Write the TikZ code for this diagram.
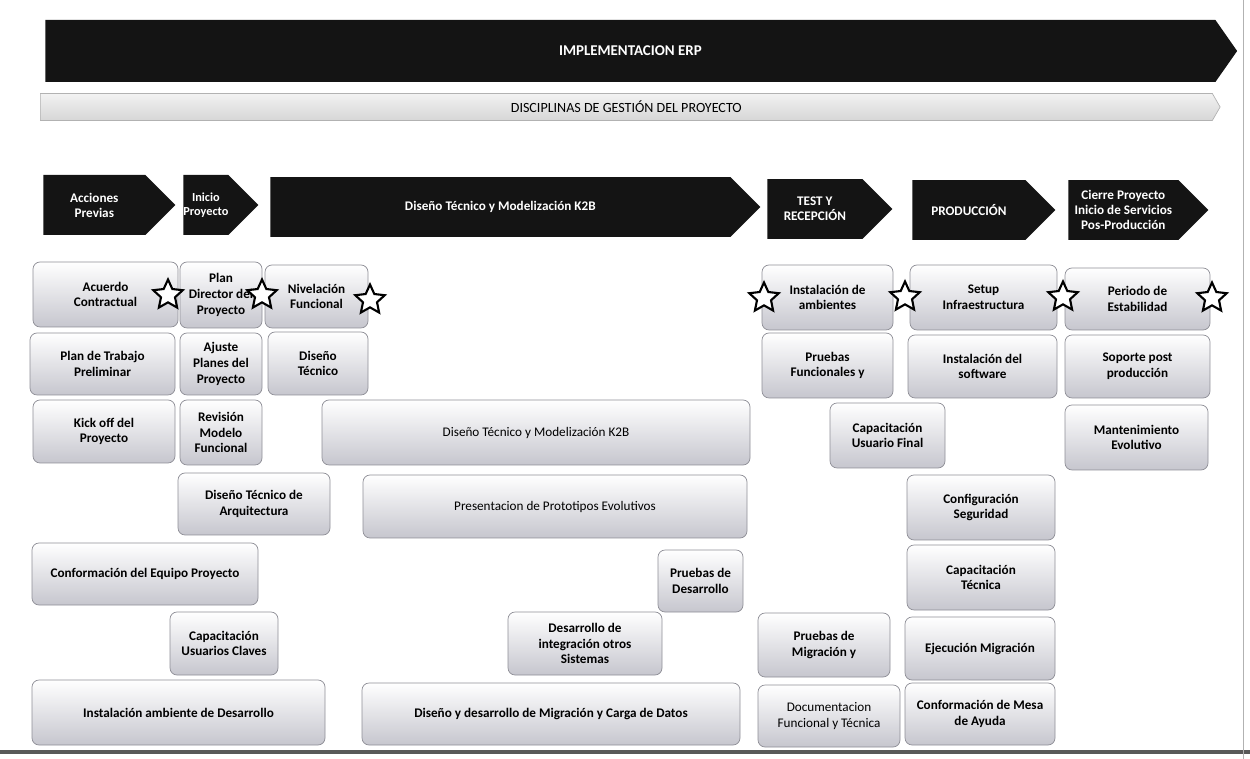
\documentclass[tikz,border=0pt]{standalone}
\usepackage{fontspec}
\setmainfont{Carlito}
\usepackage{xcolor}
\usepackage{tikz}
\usetikzlibrary{positioning,shapes.symbols,shapes.geometric}
\definecolor{negro}{HTML}{141414}
\definecolor{cajab}{HTML}{C6C6CE}
\definecolor{bordec}{HTML}{8E8E96}
\tikzset{
  fase/.style={signal,signal to=east,signal pointer angle=90,fill=negro,text=white,anchor=west,
    font=\bfseries\fontsize{7.5}{8.5}\selectfont,align=center,inner sep=1pt,minimum height=1.2cm},
  caja/.style={rounded corners=4pt,draw=bordec,top color=white,bottom color=cajab,align=center,
    font=\bfseries\fontsize{7.5}{9}\selectfont,inner sep=1pt},
  cajan/.style={caja,font=\fontsize{7.5}{9}\selectfont},
  hito/.style={star,star points=5,star point ratio=2.1,draw=black,very thick,fill=white,
    minimum size=0.62cm,inner sep=0pt}
}
% caja: nombre, x1, y1, x2, y2, texto (en pixeles)
\newcommand{\caja}[7][caja]{\node[#1,minimum width={(#5-#3)*0.02cm},minimum height={(#6-#4)*0.02cm}]
  (#2) at ({(#3+#5)/2},{(#4+#6)/2}) {#7};}

\begin{document}
\begin{tikzpicture}[x=0.02cm,y=-0.02cm]
\useasboundingbox (0,0) rectangle (1250,759);
% bandas superiores
\node[fase,signal pointer angle=110,minimum width=23.84cm,minimum height=1.24cm,font=\bfseries\fontsize{8.5}{10}\selectfont]
  (erp) at (45,51) {IMPLEMENTACION ERP};
\node[signal,signal to=east,signal pointer angle=120,anchor=west,minimum width=23.6cm,minimum height=0.54cm,
  draw=gray!60,top color=gray!10,bottom color=gray!32,font=\fontsize{8}{9}\selectfont,inner sep=1pt]
  (disc) at (40,107) {DISCIPLINAS DE GESTIÓN DEL PROYECTO};
% fases
\node[fase,minimum width=2.64cm] (previas) at (43,205) {Acciones\\Previas};
\node[fase,minimum width=1.5cm,inner sep=0pt,font=\bfseries\fontsize{7}{8}\selectfont] (inicio) at (183,205) {Inicio\\Proyecto};
\node[fase,minimum width=9.8cm] (diseno) at (270,207) {Diseño Técnico y Modelización K2B};
\node[fase,minimum width=2.5cm] (test) at (767,209) {TEST Y\\RECEPCIÓN};
\node[fase,minimum width=2.86cm] (prod) at (912,210) {PRODUCCIÓN};
\node[fase,minimum width=2.8cm] (cierre) at (1068,210) {Cierre Proyecto\\Inicio de Servicios\\Pos-Producción};
% acciones previas / inicio
\caja{acuerdo}{33}{262}{178}{327}{Acuerdo\\Contractual}
\caja{plantrab}{30}{333}{175}{395}{Plan de Trabajo\\Preliminar}
\caja{kickoff}{33}{400}{175}{463}{Kick off del\\Proyecto}
\caja{equipo}{32}{543}{258}{605}{Conformación del Equipo Proyecto}
\caja{capclav}{170}{612}{278}{675}{Capacitación\\Usuarios Claves}
\caja{ambdes}{32}{680}{325}{745}{Instalación ambiente de Desarrollo}
\caja{plandir}{180}{262}{262}{328}{Plan\\Director del\\Proyecto}
\caja{ajuste}{180}{333}{262}{395}{Ajuste\\Planes del\\Proyecto}
\caja{revision}{180}{400}{262}{465}{Revisión\\Modelo\\Funcional}
\caja{arquit}{178}{473}{330}{535}{Diseño Técnico de\\Arquitectura}
% diseno tecnico
\caja{nivel}{265}{265}{368}{328}{Nivelación\\Funcional}
\caja{distec}{268}{332}{368}{395}{Diseño\\Técnico}
\caja[cajan]{modeliz}{322}{400}{750}{465}{Diseño Técnico y Modelización K2B}
\caja[cajan]{proto}{363}{475}{747}{538}{Presentacion de Prototipos Evolutivos}
\caja{pruebdes}{658}{550}{743}{612}{Pruebas de\\Desarrollo}
\caja{integra}{508}{612}{662}{675}{Desarrollo de\\integración otros\\Sistemas}
\caja{migdat}{362}{683}{740}{745}{Diseño y desarrollo de Migración y Carga de Datos}
% test y recepcion
\caja{ambientes}{762}{265}{893}{330}{Instalación de\\ambientes}
\caja{funcion}{762}{333}{893}{398}{Pruebas\\Funcionales y}
\caja{capfin}{830}{403}{945}{468}{Capacitación\\Usuario Final}
\caja{pruebmig}{758}{613}{890}{677}{Pruebas de\\Migración y}
\caja[cajan]{docum}{758}{685}{900}{747}{Documentacion\\Funcional y Técnica}
% produccion
\caja{setup}{910}{265}{1057}{330}{Setup\\Infraestructura}
\caja{software}{908}{335}{1057}{398}{Instalación del\\software}
\caja{segur}{907}{475}{1055}{540}{Configuración\\Seguridad}
\caja{captec}{907}{545}{1055}{610}{Capacitación\\Técnica}
\caja{ejecmig}{905}{617}{1055}{680}{Ejecución Migración}
\caja{mesa}{905}{683}{1055}{745}{Conformación de Mesa\\de Ayuda}
% cierre
\caja{estab}{1065}{268}{1210}{330}{Periodo de\\Estabilidad}
\caja{soporte}{1065}{335}{1210}{398}{Soporte post\\producción}
\caja{manten}{1065}{405}{1208}{470}{Mantenimiento\\Evolutivo}
% hitos
\node[hito] (h1) at (168,295) {};
\node[hito] (h2) at (262,295) {};
\node[hito] (h3) at (370,300) {};
\node[hito] (h4) at (764,298) {};
\node[hito] (h5) at (905,297) {};
\node[hito] (h6) at (1063,297) {};
\node[hito] (h7) at (1212,298) {};
% bordes del escaneo
\draw[line width=2pt,gray!70!black] (0,752) -- (1250,752);
\draw[gray!60] (1243,0) -- (1243,759);
\end{tikzpicture}
\end{document}
